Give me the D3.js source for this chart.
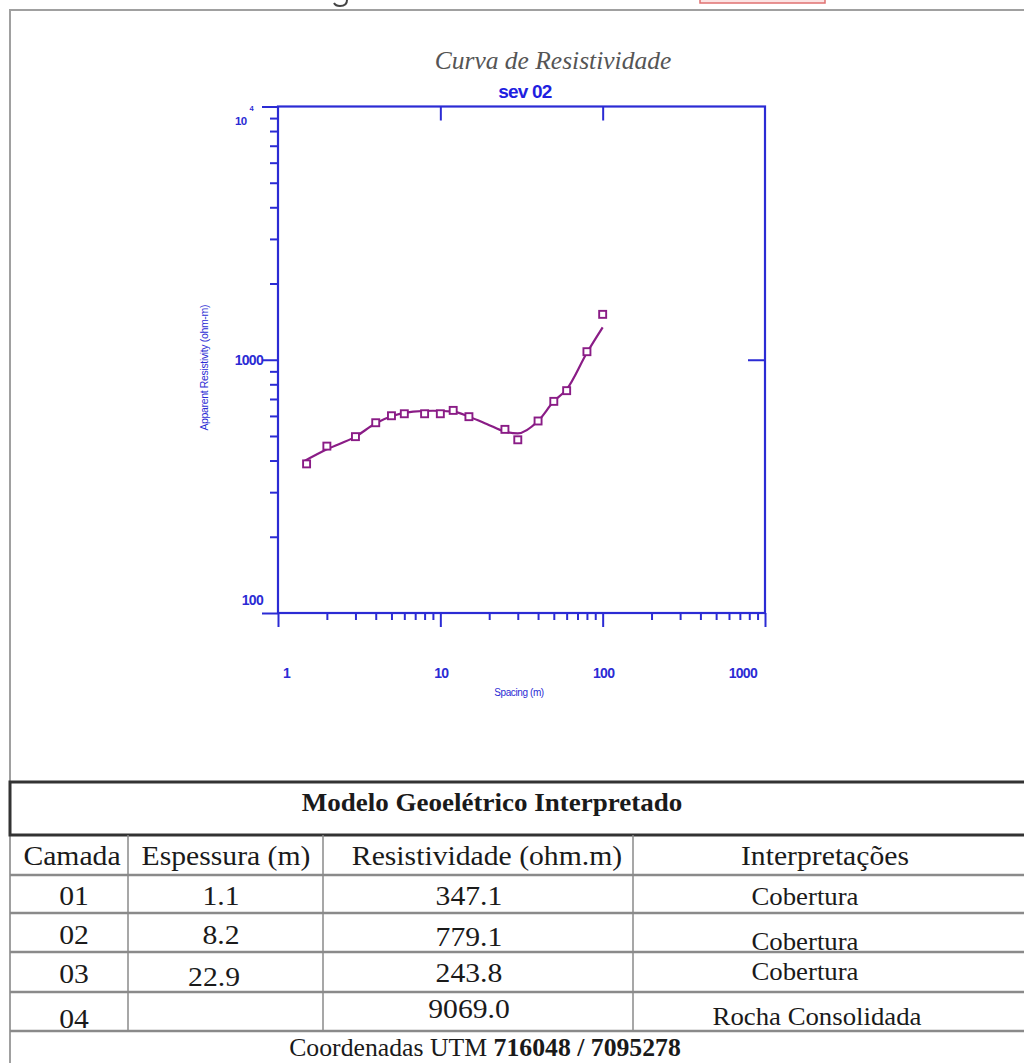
<!DOCTYPE html>
<html>
<head>
<meta charset="utf-8">
<script src="https://cdn.jsdelivr.net/npm/d3@7"></script>
<style>
  html, body { margin: 0; padding: 0; background: #fff; }
  svg { display: block; }
</style>
</head>
<body>
<svg id="sheet" width="1024" height="1063"></svg>
<script>
// Schlumberger sounding SEV 02: electrode spacing (m) and apparent resistivity (ohm-m)
const spacing = [1.5, 2, 3, 4, 5, 6, 8, 10, 12, 15, 25, 30, 40, 50, 60, 80, 100];
const rhoApparent = [388, 456, 497, 564, 601, 612, 612, 612, 631, 596, 531, 483, 573, 685, 755, 1076, 1511];

// Response of the fitted layered model
const modelSpacing = [1.43, 2, 3, 4, 5.1, 6.8, 9, 12, 15, 19.3, 25, 30, 40, 50, 60, 80, 100];
const modelRho = [396, 443, 497, 561, 601, 624, 629, 624, 596, 558, 520, 512, 573, 685, 764, 1066, 1343];

// Axis decades and their labels
const xDecades = [1, 10, 100, 1000];
const xDecadeLabels = ["1", "10", "100", "1000"];
const yDecades = [100, 1000, 10000];

// Interpreted geoelectric model
const tableTitle = "Modelo Geoelétrico Interpretado";
const colHeaders = ["Camada", "Espessura (m)", "Resistividade (ohm.m)", "Interpretações"];
const camada = ["01", "02", "03", "04"];
const espessura = ["1.1", "8.2", "22.9", ""];
const resistividade = ["347.1", "779.1", "243.8", "9069.0"];
const interpretacao = ["Cobertura", "Cobertura", "Cobertura", "Rocha Consolidada"];
const utmLabel = "Coordenadas UTM ";
const utmCoords = "716048 / 7095278";

const svg = d3.select("#sheet");
const AXIS = "#2b2bd4";
const CURVE = "#8a1c86";
const SANS = "'Liberation Sans', Arial, sans-serif";
const SERIF = "'Liberation Serif', 'Times New Roman', serif";
const INK = "#1a1a1a";

// ---- page frame and the clipped heading above it
svg.append("rect").attr("x", 700).attr("y", -20).attr("width", 125).attr("height", 23)
  .attr("fill", "#fbe3e3").attr("stroke", "#e07070").attr("stroke-width", 1.5);
svg.append("path").attr("d", "M347,0 C347,4 344,6 340,6 C337,6 335,5 334,3")
  .attr("fill", "none").attr("stroke", "#444").attr("stroke-width", 2);
svg.append("path").attr("d", "M10,1063V10H1026").attr("fill", "none")
  .attr("stroke", "#a0a0a0").attr("stroke-width", 2);

// ---- chart
const x = d3.scaleLog().domain([1, 1000]).range([278, 765]);
const y = d3.scaleLog().domain([100, 10000]).range([613, 106.5]);

const isDecade = v => Math.abs(Math.log10(v) - Math.round(Math.log10(v))) < 1e-9;
const xMinor = x.ticks().filter(v => !isDecade(v));
const yMinor = y.ticks().filter(v => !isDecade(v));

function styleAxis(g) {
  g.select(".domain").remove();
  g.selectAll("line").attr("stroke", AXIS).attr("stroke-width", 2);
}

// plot frame
svg.append("rect")
  .attr("x", x(1)).attr("y", y(10000))
  .attr("width", x(1000) - x(1)).attr("height", y(100) - y(10000))
  .attr("fill", "none").attr("stroke", AXIS).attr("stroke-width", 2.2);

// left axis: minor and decade ticks outside
svg.append("g").attr("transform", `translate(${x(1)},0)`)
  .call(d3.axisLeft(y).tickValues(yMinor).tickSize(8).tickSizeOuter(0).tickFormat(""))
  .call(styleAxis);
svg.append("g").attr("transform", `translate(${x(1)},0)`)
  .call(d3.axisLeft(y).tickValues(yDecades).tickSize(16).tickSizeOuter(0).tickFormat(""))
  .call(styleAxis);

// bottom axis
svg.append("g").attr("transform", `translate(0,${y(100)})`)
  .call(d3.axisBottom(x).tickValues(xMinor).tickSize(7).tickSizeOuter(0).tickFormat(""))
  .call(styleAxis);
svg.append("g").attr("transform", `translate(0,${y(100)})`)
  .call(d3.axisBottom(x).tickValues(xDecades).tickSize(14).tickSizeOuter(0).tickFormat(""))
  .call(styleAxis);

// top and right axes: decade ticks pointing inward
svg.append("g").attr("transform", `translate(0,${y(10000)})`)
  .call(d3.axisTop(x).tickValues(xDecades.slice(1, 3)).tickSize(-14).tickSizeOuter(0).tickFormat(""))
  .call(styleAxis);
svg.append("g").attr("transform", `translate(${x(1000)},0)`)
  .call(d3.axisRight(y).tickValues([1000]).tickSize(-17).tickSizeOuter(0).tickFormat(""))
  .call(styleAxis);

// tick labels
const lab = svg.append("g").attr("font-family", SANS).attr("font-weight", "bold")
  .attr("fill", AXIS).attr("letter-spacing", "-0.7");
lab.append("text").attr("x", x(1) - 15).attr("y", y(1000) + 5)
  .attr("text-anchor", "end").attr("font-size", 14).text("1000");
lab.append("text").attr("x", x(1) - 15).attr("y", y(100) - 8)
  .attr("text-anchor", "end").attr("font-size", 14).text("100");
const pow = lab.append("text").attr("x", x(1) - 25).attr("y", y(10000) + 18)
  .attr("text-anchor", "end").attr("font-size", 11.5);
pow.append("tspan").text("10");
pow.append("tspan").attr("dx", 3).attr("dy", -14).attr("font-size", 7.5).text("4");

xDecades.forEach((v, i) => {
  const anchor = i === 0 ? "start" : (i === xDecades.length - 1 ? "end" : "middle");
  const shift = i === 0 ? 5 : (i === xDecades.length - 1 ? -8 : 1);
  lab.append("text").attr("x", x(v) + shift).attr("y", 678)
    .attr("text-anchor", anchor).attr("font-size", 14).text(xDecadeLabels[i]);
});

// axis titles
svg.append("text").attr("x", 519).attr("y", 696).attr("text-anchor", "middle")
  .attr("font-family", SANS).attr("font-size", 10).attr("fill", AXIS)
  .attr("letter-spacing", "-0.4").text("Spacing (m)");
svg.append("text").attr("transform", `translate(208,${y(1000) + 8}) rotate(-90)`)
  .attr("text-anchor", "middle").attr("font-family", SANS).attr("font-size", 10.5)
  .attr("fill", AXIS).attr("letter-spacing", "-0.35").text("Apparent Resistivity (ohm-m)");

// titles
svg.append("text").attr("x", 553).attr("y", 69).attr("text-anchor", "middle")
  .attr("font-family", SERIF).attr("font-style", "italic").attr("font-size", 25.5)
  .attr("fill", "#555").text("Curva de Resistividade");
svg.append("text").attr("x", 525).attr("y", 98).attr("text-anchor", "middle")
  .attr("font-family", SANS).attr("font-weight", "bold").attr("font-size", 19)
  .attr("letter-spacing", "-0.8").attr("fill", "#1f1fe0").text("sev 02");

// model curve
const model = modelSpacing.map((s, i) => [s, modelRho[i]]);
svg.append("path").datum(model)
  .attr("d", d3.line().x(d => x(d[0])).y(d => y(d[1])).curve(d3.curveMonotoneX))
  .attr("fill", "none").attr("stroke", CURVE).attr("stroke-width", 2.2);

// field data
const obs = spacing.map((s, i) => [s, rhoApparent[i]]);
const sq = 7;
svg.append("g").selectAll("rect").data(obs).join("rect")
  .attr("x", d => x(d[0]) - sq / 2).attr("y", d => y(d[1]) - sq / 2)
  .attr("width", sq).attr("height", sq)
  .attr("fill", "#fff").attr("stroke", CURVE).attr("stroke-width", 1.9);

// ---- table
const T = svg.append("g");
const colX = [10, 128, 323, 633, 1030];
const rowY = [835, 875, 913, 952, 992, 1031];

T.append("rect").attr("x", 10).attr("y", 782).attr("width", 1030).attr("height", 53)
  .attr("fill", "none").attr("stroke", "#333").attr("stroke-width", 3);

rowY.slice(1).forEach(yy => {
  T.append("line").attr("x1", 10).attr("x2", 1030).attr("y1", yy).attr("y2", yy)
    .attr("stroke", "#8a8a8a").attr("stroke-width", 2.5);
});
colX.slice(1, 4).forEach(xx => {
  T.append("line").attr("x1", xx).attr("x2", xx).attr("y1", 835).attr("y2", rowY[5])
    .attr("stroke", "#8a8a8a").attr("stroke-width", 1.5);
});

// serif cell text, widened slightly like the printed sheet
function cell(text, cx, cy, size, stretch) {
  return T.append("text")
    .attr("transform", `translate(${cx},${cy}) scale(${stretch},1)`)
    .attr("text-anchor", "middle")
    .attr("font-family", SERIF).attr("font-size", size).attr("fill", INK)
    .text(text);
}

cell(tableTitle, 492, 811, 25.5, 1.06).attr("font-weight", "bold");

// header row
const headX = [72, 226, 487, 825];
colHeaders.forEach((h, i) => cell(h, headX[i], 865, 28, 1.06));

// body rows: text centres per column, each row's own baseline
const bodyX = [74, 221, 469, 805];
const base = [
  [905, 905, 905, 905],
  [944, 944, 946, 950],
  [983, 986, 982, 980],
  [1028, 1028, 1018, 1025]
];
const cols = [camada, espessura, resistividade, interpretacao];
camada.forEach((_, r) => {
  cols.forEach((arr, c) => {
    const cx = c === 1 && r === 2 ? 214 : (c === 3 && r === 3 ? 817 : bodyX[c]);
    cell(arr[r], cx, base[r][c], c === 3 ? 26 : 28, c === 3 ? 1.03 : 1.06);
  });
});

// coordinates row
const utm = T.append("text")
  .attr("transform", "translate(485,1056) scale(1.03,1)").attr("text-anchor", "middle")
  .attr("font-family", SERIF).attr("font-size", 25).attr("fill", INK);
utm.append("tspan").text(utmLabel);
utm.append("tspan").attr("font-weight", "bold").text(utmCoords);
</script>
</body>
</html>
